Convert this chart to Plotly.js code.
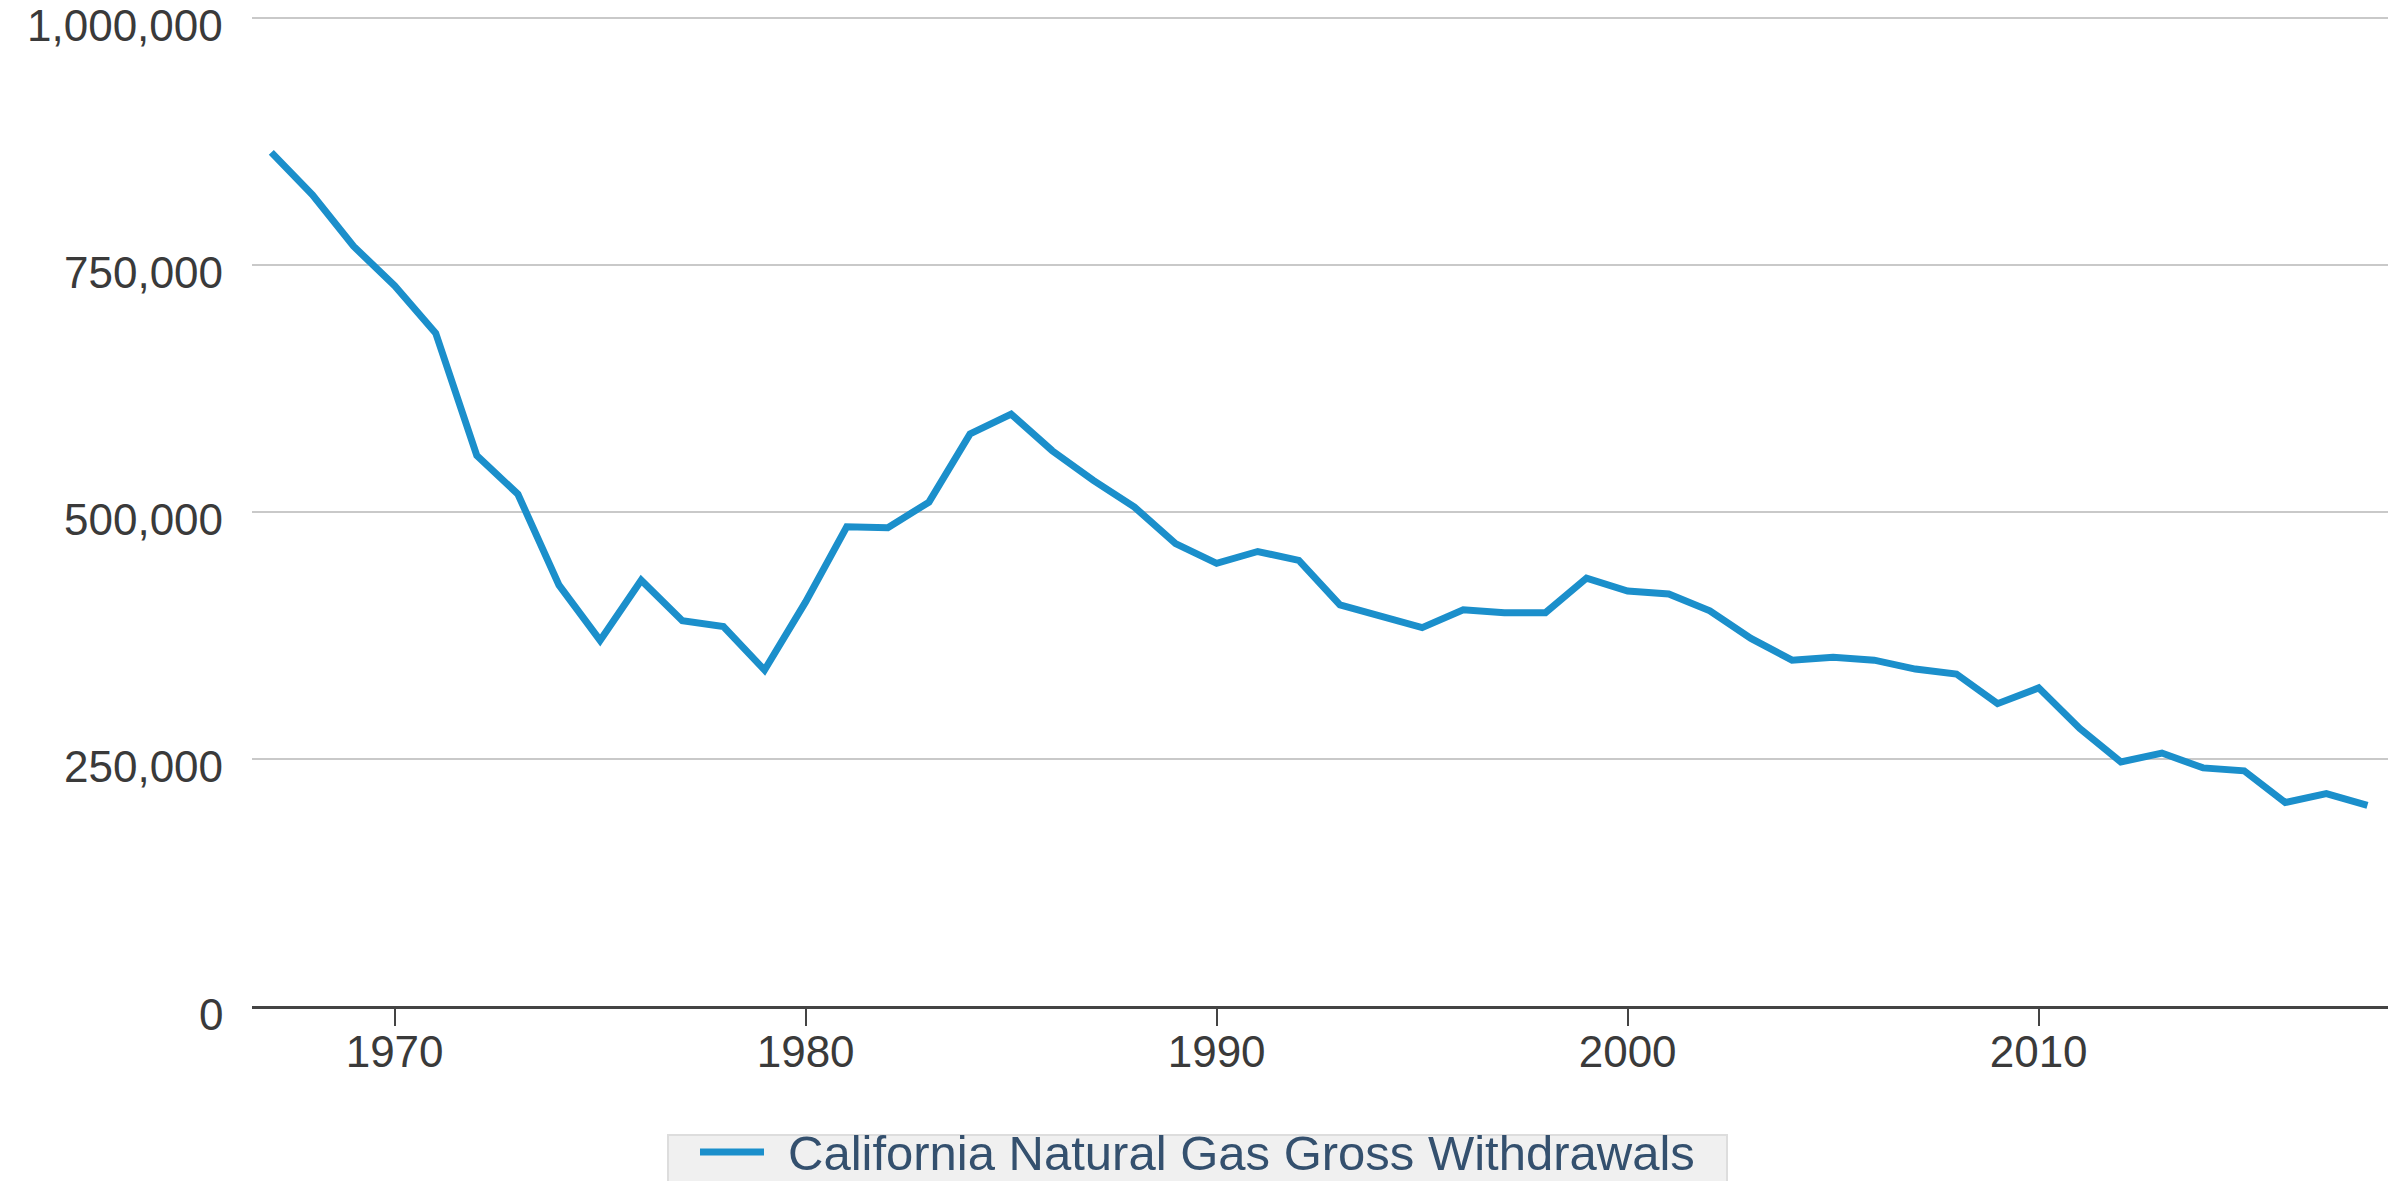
<!DOCTYPE html>
<html>
<head>
<meta charset="utf-8">
<script src="https://cdn.plot.ly/plotly-3.0.1.min.js"></script>
<style>
  html, body { margin: 0; padding: 0; background: #ffffff; }
  #chart { width: 2388px; height: 1181px; }
</style>
</head>
<body>
<div id="chart"></div>
<script>
const years = [1967, 1968, 1969, 1970, 1971, 1972, 1973, 1974, 1975, 1976,
               1977, 1978, 1979, 1980, 1981, 1982, 1983, 1984, 1985, 1986,
               1987, 1988, 1989, 1990, 1991, 1992, 1993, 1994, 1995, 1996,
               1997, 1998, 1999, 2000, 2001, 2002, 2003, 2004, 2005, 2006,
               2007, 2008, 2009, 2010, 2011, 2012, 2013, 2014, 2015, 2016,
               2017, 2018];
const withdrawals = [864000, 821000, 769000, 729000, 681000, 557000, 518000, 426000, 370000, 431000,
                     390000, 384000, 340000, 409000, 485000, 484000, 510000, 579000, 599000, 562000,
                     532000, 505000, 468000, 448000, 460000, 451000, 406000, 395000, 383000, 401000,
                     398000, 398000, 433000, 420000, 417000, 400000, 372000, 350000, 353000, 350000,
                     341000, 336000, 306000, 322000, 281000, 247000, 256000, 241000, 238000, 206000,
                     215000, 203000];
const seriesName = "California Natural Gas Gross Withdrawals";
const yTicks = [0, 250000, 500000, 750000, 1000000];
const yTickText = ["0", "250,000", "500,000", "750,000", "1,000,000"];
const xTicks = [1970, 1980, 1990, 2000, 2010];

const W = 2388, H = 1181;
const M = { l: 252, r: 0, t: 16, b: 175 };
const plotW = W - M.l - M.r, plotH = H - M.t - M.b;
// helpers converting page pixels to paper coordinates (for the legend box only)
const px = v => (v - M.l) / plotW;
const py = v => (H - M.b - v) / plotH;

const lineColor = "#1b8fcb";
const tickFont = { family: "Liberation Sans, Arial, sans-serif", size: 44, color: "#3a3a3a" };

const trace = {
  type: "scatter",
  mode: "lines",
  x: years,
  y: withdrawals,
  name: seriesName,
  line: { color: lineColor, width: 7 },
  showlegend: false
};

// y tick labels sit slightly below their grid lines in the reference
const yLabelAnnotations = yTicks.map((v, i) => ({
  xref: "paper", yref: "y",
  x: 0, y: v,
  xanchor: "right", yanchor: "middle",
  xshift: -27, yshift: -8,
  text: yTickText[i], showarrow: false,
  font: tickFont
}));

const layout = {
  width: W,
  height: H,
  margin: { l: M.l, r: M.r, t: M.t, b: M.b, pad: 0 },
  paper_bgcolor: "#ffffff",
  plot_bgcolor: "#ffffff",
  font: { family: "Liberation Sans, Arial, sans-serif", color: "#3a3a3a", size: 44 },
  showlegend: false,
  xaxis: {
    range: [1966.53, 2018.5],
    tickmode: "array",
    tickvals: xTicks,
    ticks: "outside",
    ticklen: 17,
    tickwidth: 2,
    tickcolor: "#444444",
    ticklabelstandoff: -12,
    showgrid: false,
    zeroline: false,
    showline: true,
    linecolor: "#444444",
    linewidth: 3,
    tickfont: tickFont,
    fixedrange: true
  },
  yaxis: {
    range: [0, 1002000],
    tickmode: "array",
    tickvals: yTicks,
    showticklabels: false,
    ticks: "",
    showgrid: true,
    gridcolor: "#c9c9c9",
    gridwidth: 2.5,
    zeroline: false,
    showline: false,
    automargin: false,
    fixedrange: true
  },
  shapes: [
    {
      type: "rect", xref: "paper", yref: "paper",
      x0: px(668), x1: px(1727), y0: py(1135), y1: py(1195),
      fillcolor: "#f0f0f0", line: { color: "#dddddd", width: 2 }, layer: "above"
    },
    {
      type: "line", xref: "paper", yref: "paper",
      x0: px(700), x1: px(764), y0: py(1152), y1: py(1152),
      line: { color: lineColor, width: 7 }, layer: "above"
    }
  ],
  annotations: yLabelAnnotations.concat([
    {
      xref: "paper", yref: "paper",
      x: px(786), y: py(1153),
      xanchor: "left", yanchor: "middle",
      text: seriesName, showarrow: false,
      font: { family: "Liberation Sans, Arial, sans-serif", size: 49, color: "#34506e" }
    }
  ])
};

Plotly.newPlot("chart", [trace], layout, { displayModeBar: false, staticPlot: true });
</script>
</body>
</html>
